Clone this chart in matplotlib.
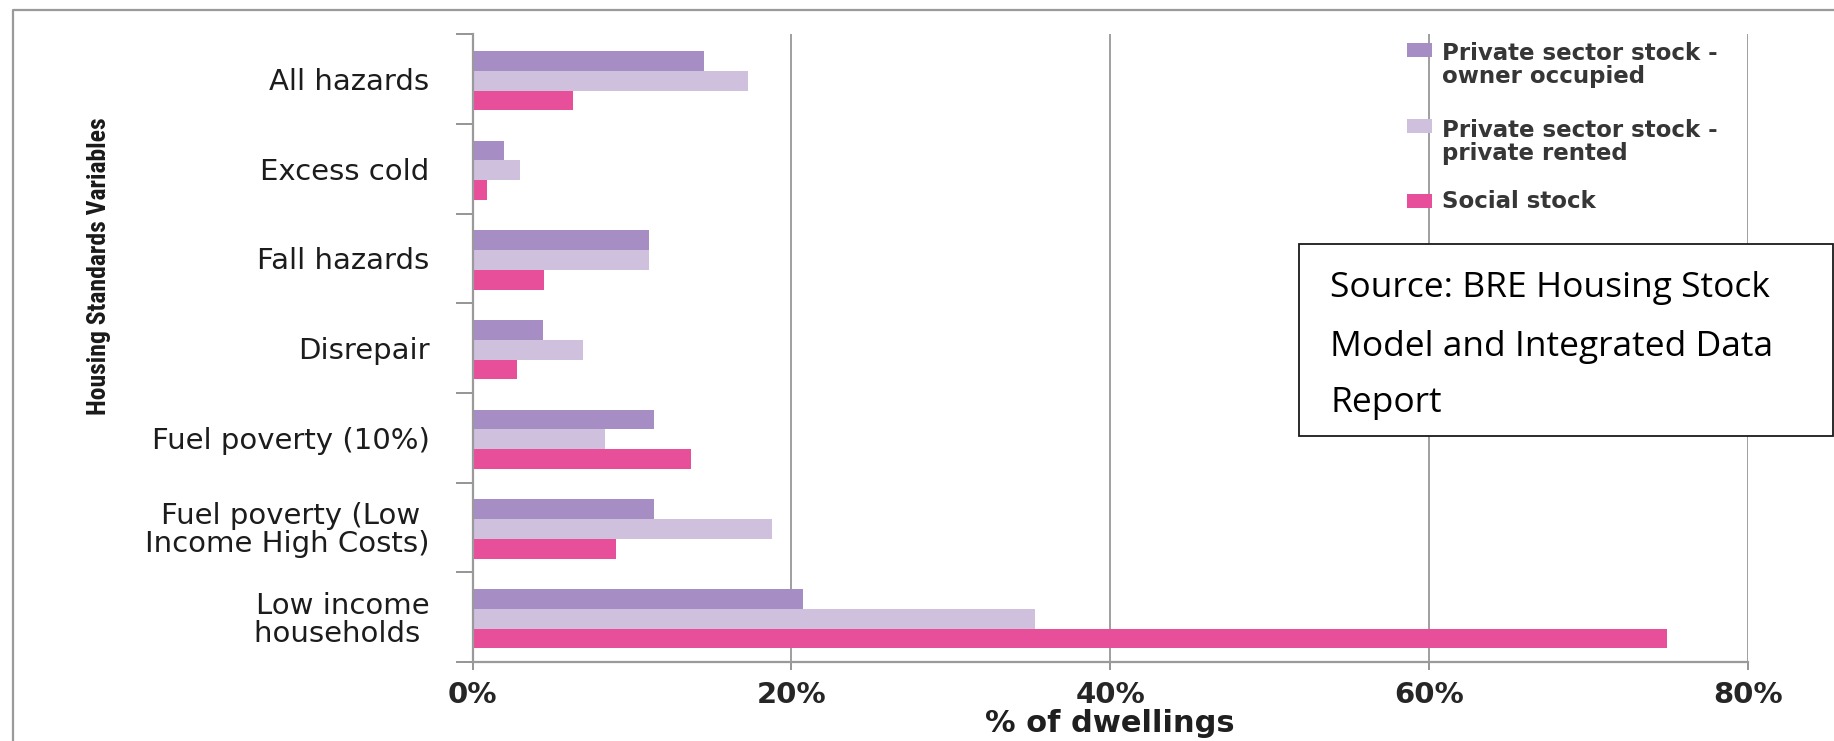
import matplotlib
matplotlib.use("Agg")
import matplotlib.pyplot as plt
import numpy as np
from matplotlib import font_manager
from matplotlib.patches import Rectangle
from matplotlib.lines import Line2D

# ---------------- data ----------------
categories = ["All hazards", "Excess cold", "Fall hazards", "Disrepair",
              "Fuel poverty (10%)", "Fuel poverty (Low \nIncome High Costs)",
              "Low income\nhouseholds "]
series_names = ["Private sector stock -\nowner occupied",
                "Private sector stock -\nprivate rented",
                "Social stock"]
owner_occupied = [14.5, 2.0, 11.1, 4.4, 11.4, 11.4, 20.7]
private_rented = [17.3, 3.0, 11.1, 6.9, 8.3, 18.8, 35.3]
social_stock = [6.3, 0.9, 4.5, 2.8, 13.7, 9.0, 74.9]
x_ticks = [0, 20, 40, 60, 80]
x_tick_labels = ["0%", "20%", "40%", "60%", "80%"]
colors = ["#A68DC3", "#CFC0DD", "#E84F9B"]
source_lines = ["Source: BRE Housing Stock", "Model and Integrated Data", "Report"]

# ---------------- layout helpers ----------------
W, H = 1834, 741
fig = plt.figure(figsize=(W / 100, H / 100), dpi=100)
fig.patch.set_facecolor("white")

def fx(x):
    return x / W

def fy(y):
    return 1 - y / H

names = {f.name for f in font_manager.fontManager.ttflist}
narrow = None
for cand in ["Liberation Sans Narrow", "Roboto Condensed", "Open Sans Condensed", "DejaVu Sans Condensed"]:
    if cand in names:
        narrow = cand
        break
if narrow is None:
    narrow = "DejaVu Sans"

# outer border (left + top)
fig.add_artist(Line2D([fx(12.5), fx(12.5), fx(W + 5)], [fy(H + 5), fy(10), fy(10)],
                      color="#9a9a9a", lw=1.6, transform=fig.transFigure))

ax = fig.add_axes([fx(472.5), fy(662), fx(1748) - fx(472.5), fy(34.3) - fy(662)])

series = [owner_occupied, private_rented, social_stock]
n = len(categories)
y = np.arange(n)
bh = 0.22
offsets = [-bh, 0.0, bh]
for vals, off, col, name in zip(series, offsets, colors, series_names):
    ax.barh(y + off + 0.017, vals, height=bh, color=col, edgecolor="none", label=name, zorder=3)

ax.set_xlim(0, 80)
ax.set_ylim(n - 0.5, -0.5)

ax.set_xticks(x_ticks)
ax.set_xticklabels(x_tick_labels, fontsize=21, color="#262626", family="DejaVu Sans",
                   fontweight="semibold")
ax.tick_params(axis="x", length=5.5, width=1.3, color="#8c8c8c", pad=8)

ax.set_yticks(y)
ax.set_yticklabels(categories, fontsize=21, color="#1c1c1c", family="DejaVu Sans",
                   linespacing=1.0)
ax.tick_params(axis="y", which="major", length=0, pad=31)
ax.set_yticks(np.arange(-0.5, n, 1.0), minor=True)
ax.tick_params(axis="y", which="minor", length=12, width=1.3, color="#8c8c8c", direction="out")

ax.grid(axis="x", color="#858585", lw=1.1, zorder=1)
ax.grid(axis="y", visible=False)
for s in ["top", "right"]:
    ax.spines[s].set_visible(False)
for s in ["left", "bottom"]:
    ax.spines[s].set_color("#9a9a9a")
    ax.spines[s].set_linewidth(1.6)
    ax.spines[s].set_zorder(4)

ax.set_xlabel("% of dwellings", fontsize=22, fontweight="bold", color="#1f1f1f",
              family="DejaVu Sans", labelpad=0)

# y-axis title
yt = fig.text(fx(99), fy(266), "Housing Standards Variables", rotation=90,
              ha="center", va="center", fontsize=18, fontweight="bold",
              color="#1a1a1a", family=[narrow, "DejaVu Sans"])
fig.canvas.draw()
r = fig.canvas.get_renderer()
bb = yt.get_window_extent(r)
yt.set_fontsize(18 * 298.0 / bb.height)

# legend (drawn manually so each handle sits beside the first text line)
leg_fs = 16.5
first_baselines = [56.7, 133.0, 208.0]
last_baselines = [83.3, 160.0, 208.0]
for name, col, b1, b2 in zip(series_names, colors, first_baselines, last_baselines):
    fig.add_artist(Rectangle((fx(1407), fy(b1)), fx(1432) - fx(1407), 14 / H,
                             transform=fig.transFigure, facecolor=col, edgecolor="none"))
    fig.text(fx(1442), fy(b2), name, ha="left", va="baseline", fontsize=leg_fs,
             fontweight="bold", color="#363636", family="DejaVu Sans", linespacing=1.0)

# source box
fig.add_artist(Rectangle((fx(1298.7), fy(435.7)), fx(1833.4) - fx(1298.7), (435.7 - 244) / H,
                         transform=fig.transFigure, facecolor="white", edgecolor="#1a1a1a",
                         lw=1.3, zorder=10))
src_baselines = [296.7, 356.0, 411.7]
for line, base in zip(source_lines, src_baselines):
    fig.text(fx(1330), fy(base), line, ha="left", va="baseline", fontsize=25.5,
             color="black", family=["Open Sans", "DejaVu Sans"], zorder=11)

fig.savefig("out.png", dpi=100, facecolor="white")
